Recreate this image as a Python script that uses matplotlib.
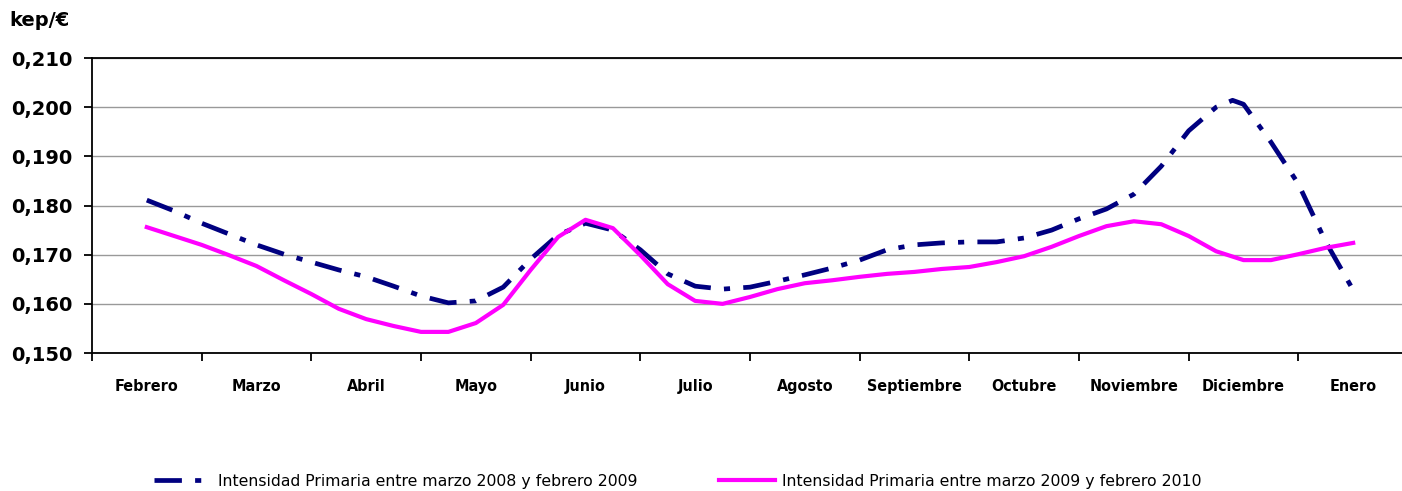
import matplotlib
matplotlib.use("Agg")
import matplotlib.pyplot as plt
from matplotlib.ticker import FuncFormatter, FixedLocator

months = ["Febrero", "Marzo", "Abril", "Mayo", "Junio", "Julio", "Agosto",
          "Septiembre", "Octubre", "Noviembre", "Diciembre", "Enero"]

# positions in months (0 = Febrero), read every quarter month off the picture
pos = [i * 0.25 for i in range(45)]

int_2008_09 = [0.1811, 0.1789, 0.1764, 0.1742, 0.1720, 0.1701, 0.1685, 0.1669,
               0.1655, 0.1636, 0.1616, 0.1602, 0.1606, 0.1634, 0.1691, 0.1740,
               0.1764, 0.1750, 0.1710, 0.1661, 0.1636, 0.1630, 0.1634, 0.1646,
               0.1659, 0.1673, 0.1689, 0.1710, 0.1720, 0.1724, 0.1726, 0.1726,
               0.1734, 0.1750, 0.1773, 0.1793, 0.1823, 0.1880, 0.1952, 0.2000,
               0.2006, 0.1929, 0.1844, 0.1726, 0.1628]

int_2009_10 = [0.1756, 0.1738, 0.1720, 0.1699, 0.1677, 0.1648, 0.1620, 0.1590,
               0.1569, 0.1555, 0.1543, 0.1543, 0.1561, 0.1598, 0.1669, 0.1736,
               0.1771, 0.1754, 0.1699, 0.1640, 0.1606, 0.1600, 0.1614, 0.1630,
               0.1642, 0.1648, 0.1655, 0.1661, 0.1665, 0.1671, 0.1675, 0.1685,
               0.1697, 0.1716, 0.1738, 0.1758, 0.1768, 0.1762, 0.1738, 0.1707,
               0.1689, 0.1689, 0.1701, 0.1714, 0.1724]

# peak of Diciembre 2008 sits between two grid points
pos_a = pos[:40] + [9.9] + pos[40:]
int_2008_09 = int_2008_09[:40] + [0.2014] + int_2008_09[40:]

labels = ["Intensidad Primaria entre marzo 2008 y febrero 2009",
          "Intensidad Primaria entre marzo 2009 y febrero 2010"]

fig = plt.figure(figsize=(14.02, 4.91), dpi=100)
ax = fig.add_axes([0.0656, 0.281, 0.9387, 0.6008])

l1, = ax.plot(pos_a, int_2008_09, color="#000080", lw=3.4,
              dashes=(5.8, 2.8, 1.3, 2.8), dash_capstyle="butt", label=labels[0])
l2, = ax.plot(pos, int_2009_10, color="#ff00ff", lw=3.0, label=labels[1])

ax.set_xlim(-0.5, 11.5)
ax.set_ylim(0.150, 0.210)
ax.set_yticks([0.150 + 0.01 * i for i in range(7)])
ax.yaxis.set_major_formatter(FuncFormatter(lambda v, p: ("%.3f" % v).replace(".", ",")))
ax.grid(axis="y", color="#999999", lw=1.0)
ax.set_axisbelow(True)

# ticks on category boundaries, labels in the middle
ax.xaxis.set_major_locator(FixedLocator([i - 0.5 for i in range(13)]))
ax.xaxis.set_minor_locator(FixedLocator(range(12)))
ax.set_xticklabels([], minor=False)
ax.set_xticklabels(months, minor=True)
ax.tick_params(axis="x", which="major", length=6, width=1.3, direction="out")
ax.tick_params(axis="x", which="minor", length=0, pad=19)
ax.tick_params(axis="y", length=6, width=1.3, direction="out", pad=8)

for t in ax.get_xticklabels(minor=True):
    t.set_fontsize(11.5)
    t.set_fontweight("bold")
    t.set_fontstretch("condensed")
for t in ax.get_yticklabels():
    t.set_fontsize(14)
    t.set_fontweight("bold")

ax.spines["right"].set_visible(False)
for s in ["left", "bottom", "top"]:
    ax.spines[s].set_linewidth(1.3)
    ax.spines[s].set_color("black")

fig.text(0.007, 0.958, "kep/€", fontsize=14, fontweight="bold", va="center")

fig.legend(handles=[l1, l2], labels=labels, loc="center left", ncol=2,
           bbox_to_anchor=(0.110, 0.02), frameon=False, fontsize=11.3,
           handlelength=3.6, handletextpad=0.45, columnspacing=5.2,
           borderpad=0, borderaxespad=0)

fig.savefig("out.png", dpi=100)
